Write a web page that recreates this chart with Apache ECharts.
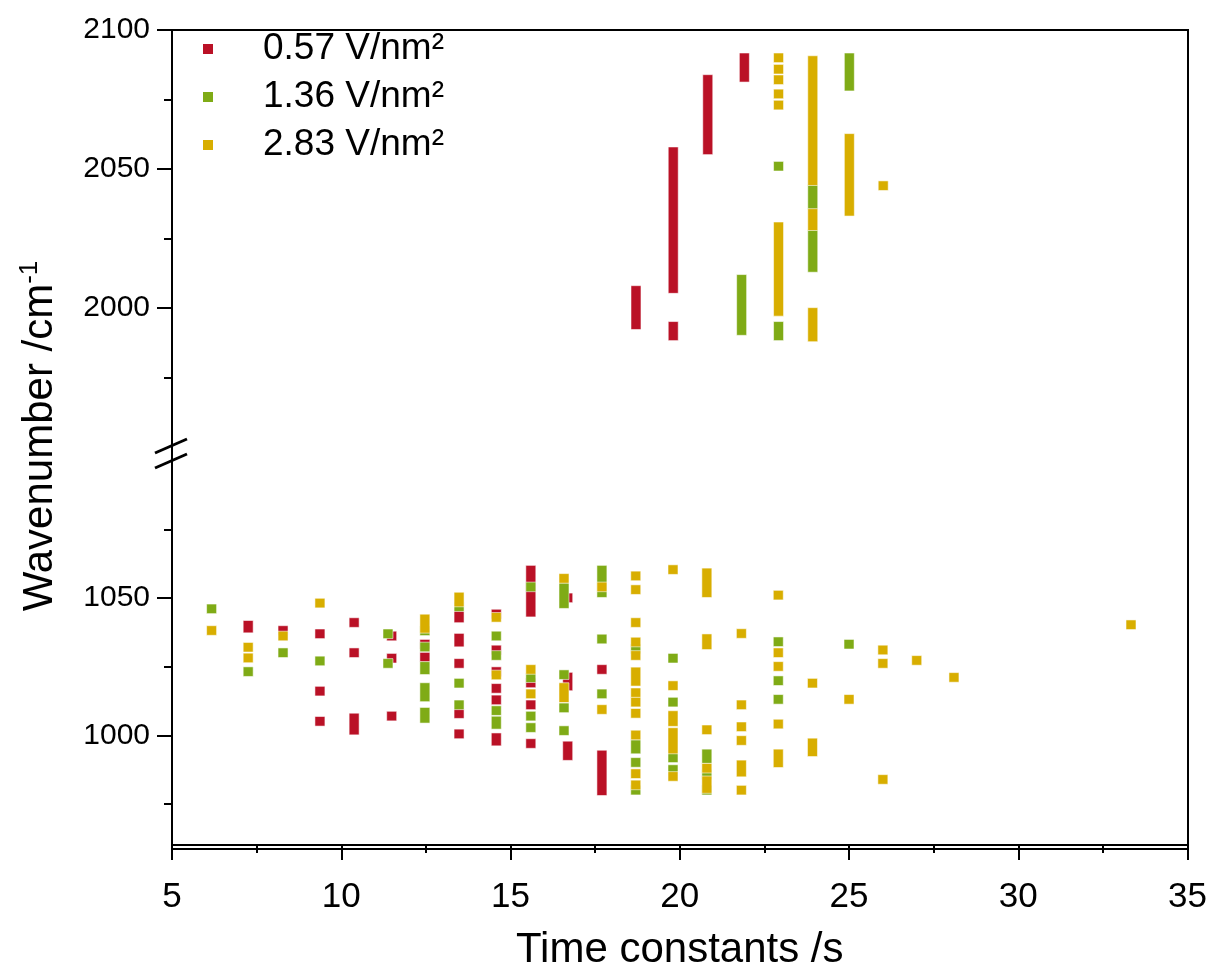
<!DOCTYPE html>
<html>
<head>
<meta charset="utf-8">
<script src="https://cdn.jsdelivr.net/npm/echarts@6/dist/echarts.min.js"></script>
<style>
  html, body { margin: 0; padding: 0; background: #fff; }
  #chart { width: 1210px; height: 972px; }
</style>
</head>
<body>
<div id="chart"></div>
<script>
// series names (legend)
const seriesNames = ["0.57 V/nm²", "1.36 V/nm²", "2.83 V/nm²"];
const seriesColors = ["#BA1126", "#7FAB16", "#D8AE00"];

// [time constant /s, wavenumber] or [time, wavenumber low, wavenumber high] for stacked runs
const redData = [
  [18.7, 1994, 2006.3], [19.8, 2007, 2056.2], [19.8, 1990, 1993.4],
  [20.82, 2056.9, 2082.2], [21.9, 2083, 2090],
  [7.25, 1039.1, 1040.1], [8.28, 1038.2],
  [9.37, 1037], [9.37, 1016.1], [9.37, 1005.1],
  [10.38, 1041.1], [10.38, 1030.1], [10.38, 1001.9, 1006.3],
  [11.49, 1036.2], [11.49, 1028.1], [11.49, 1007],
  [12.47, 1033.2], [12.47, 1028.5],
  [13.48, 1042.8, 1043.6], [13.48, 1034, 1035.4], [13.48, 1026.2], [13.48, 1007.9], [13.48, 1000.5],
  [14.58, 1044.2], [14.58, 1031.1], [14.58, 1023.2], [14.58, 1017.1], [14.58, 1012.9], [14.58, 997.9, 999.1],
  [15.6, 1044.9, 1060.2], [15.6, 1019.1], [15.6, 1011.1], [15.6, 997],
  [16.69, 1050.1], [16.69, 1018, 1021.2], [16.69, 992.6, 996.1],
  [17.7, 1024], [17.7, 979.8, 992.8]
];

const greenData = [
  [21.82, 1991.9, 2010.3], [22.91, 2051], [22.91, 1990, 1993.4],
  [23.92, 2037.2, 2042.6], [23.92, 2014.6, 2026.4], [25.0, 2079.8, 2090],
  [6.17, 1046.1], [7.25, 1023.2], [8.28, 1030.1], [9.37, 1027.1],
  [11.38, 1037], [11.38, 1026.2],
  [12.47, 1038.1], [12.47, 1032.2], [12.47, 1023.9, 1025.1], [12.47, 1014, 1017.4], [12.47, 1006.2, 1008.4],
  [13.48, 1046.9], [13.48, 1019], [13.48, 1011.1],
  [14.58, 1036.2], [14.58, 1029.1], [14.58, 1009], [14.58, 1004, 1005.2],
  [15.6, 1054.1], [15.6, 1021], [15.6, 1007], [15.6, 1002.8],
  [16.58, 1048, 1053.8], [16.58, 1022.1], [16.58, 1010], [16.58, 1001.7],
  [17.7, 1052, 1060.2], [17.7, 1035.1], [17.7, 1015.1],
  [18.7, 1031.5], [18.7, 995, 996.6], [18.7, 990.1], [18.7, 980],
  [19.8, 1028.1], [19.8, 1012.1], [19.8, 991.8], [19.8, 987.5],
  [20.8, 991.5, 993.2], [20.8, 985.7], [20.8, 980],
  [22.91, 1034.1], [22.91, 1019.9], [22.91, 1013.1],
  [25.0, 1033.2]
];

const yellowData = [
  [22.91, 2090], [22.91, 2085.9], [22.91, 2082.1], [22.91, 2077], [22.91, 2073],
  [22.91, 1998.8, 2029.2],
  [23.92, 2045.8, 2089], [23.92, 2029.6, 2034], [23.92, 1989.6, 1998.4],
  [25.0, 2034.8, 2061], [26.0, 2044],
  [6.17, 1038.2], [7.25, 1032.1], [7.25, 1028.2], [8.28, 1036.2], [9.37, 1048.2],
  [12.47, 1039, 1042.4], [13.48, 1048.6, 1050.4],
  [14.58, 1043], [14.58, 1022],
  [15.6, 1024], [15.6, 1015.1],
  [16.58, 1057.2], [16.58, 1013.7, 1017.4],
  [17.7, 1054.1], [17.7, 1009.4],
  [18.7, 1058.1], [18.7, 1053.1], [18.7, 1041.1], [18.7, 1034], [18.7, 1029.1],
  [18.7, 1019.7, 1023.1], [18.7, 1015.5], [18.7, 1012.1], [18.7, 1008], [18.7, 1000.1],
  [18.7, 986], [18.7, 981.9],
  [19.8, 1060.4], [19.8, 1018.1], [19.8, 1005, 1007.2], [19.8, 995, 1001], [19.8, 985],
  [20.8, 1052, 1059.2], [20.8, 1033, 1035.2], [20.8, 1002], [20.8, 988], [20.8, 980.6, 983.4],
  [21.82, 1037.1], [21.82, 1011.1], [21.82, 1003.1], [21.82, 998.1], [21.82, 986.6, 989.2], [21.82, 980],
  [22.91, 1051.1], [22.91, 1030.1], [22.91, 1025.1], [22.91, 1004.1], [22.91, 990, 993.2],
  [23.92, 1019], [23.92, 994, 997.2],
  [25.0, 1013.1], [26.0, 1031.1], [26.0, 1026.2], [26.0, 983.9],
  [27.0, 1027.3], [28.1, 1021.1], [33.33, 1040.3]
];

// axis ticks
const xTicks = { min: 5, max: 35, interval: 5 };
const upperMajor = [2000, 2050, 2100];
const upperMinor = [1975, 2025, 2075];
const lowerMajor = [1000, 1050];
const lowerMinor = [975, 1025, 1075];

const FONT = "'Liberation Sans', Arial, sans-serif";
const allData = [redData, greenData, yellowData];

// normalize to [t, lo, hi]
function toRange(d) {
  return [d[0], d[1], d.length > 2 ? d[2] : d[1]];
}

function renderSquares(params, api) {
  const t = api.value(0);
  const top = api.coord([t, api.value(2)]);
  const bot = api.coord([t, api.value(1)]);
  return {
    type: "rect",
    shape: { x: top[0] - 5, y: top[1] - 4.8, width: 10, height: bot[1] - top[1] + 9.6 },
    style: { fill: api.visual("color"), stroke: "rgba(255,255,255,0.55)", lineWidth: 1 }
  };
}

const series = [];
allData.forEach((arr, i) => {
  const rows = arr.map(toRange);
  const upper = rows.filter(r => r[1] > 1500);
  const lower = rows.filter(r => r[1] <= 1500);
  [[upper, 0], [lower, 1]].forEach(([data, g]) => {
    series.push({
      name: seriesNames[i],
      type: "custom",
      xAxisIndex: g,
      yAxisIndex: g * 2,
      renderItem: renderSquares,
      itemStyle: { color: seriesColors[i] },
      encode: { x: 0, y: [1, 2] },
      data: data
    });
  });
});

const axisLineStyle = { color: "#000", width: 2 };
const plainLabel = v => String(v);

const chart = echarts.init(document.getElementById("chart"));
chart.setOption({
  animation: false,
  backgroundColor: "#fff",
  textStyle: { fontFamily: FONT },
  grid: [
    { left: 172, top: 30, width: 1016, height: 417 },
    { left: 172, top: 461, width: 1016, height: 388 }
  ],
  legend: {
    data: seriesNames,
    orient: "vertical",
    left: 203,
    top: 29,
    padding: 0,
    itemGap: 8,
    itemWidth: 10,
    itemHeight: 10,
    icon: "rect",
    selectedMode: false,
    itemStyle: { borderWidth: 0 },
    textStyle: { fontSize: 37, color: "#000", fontFamily: FONT, lineHeight: 40, padding: [0, 0, 0, 45] }
  },
  xAxis: [
    { gridIndex: 0, type: "value", min: xTicks.min, max: xTicks.max, interval: xTicks.interval, show: false },
    {
      gridIndex: 1, type: "value", min: xTicks.min, max: xTicks.max, interval: xTicks.interval,
      axisLine: { lineStyle: axisLineStyle },
      axisTick: { length: 15, lineStyle: axisLineStyle },
      minorTick: { show: true, splitNumber: 2, length: 8, lineStyle: axisLineStyle },
      splitLine: { show: false },
      axisLabel: { fontSize: 35, color: "#000", margin: 35, fontFamily: FONT, formatter: plainLabel },
      name: "Time constants /s",
      nameLocation: "middle",
      nameGap: 84,
      nameTextStyle: { fontSize: 42, color: "#000", fontFamily: FONT }
    }
  ],
  yAxis: [
    {
      gridIndex: 0, type: "value", min: 1950, max: 2100, interval: 50,
      axisLine: { lineStyle: axisLineStyle },
      axisTick: { length: 15, lineStyle: axisLineStyle, customValues: upperMajor },
      splitLine: { show: false },
      axisLabel: { fontSize: 30, color: "#000", margin: 22, fontFamily: FONT, customValues: upperMajor, formatter: plainLabel }
    },
    {
      gridIndex: 0, type: "value", min: 1950, max: 2100, position: "left",
      axisLine: { show: false },
      axisTick: { length: 8, lineStyle: axisLineStyle, customValues: upperMinor },
      splitLine: { show: false },
      axisLabel: { show: false }
    },
    {
      gridIndex: 1, type: "value", min: 960, max: 1100,
      axisLine: { lineStyle: axisLineStyle },
      axisTick: { length: 15, lineStyle: axisLineStyle, customValues: lowerMajor },
      splitLine: { show: false },
      axisLabel: { fontSize: 30, color: "#000", margin: 22, fontFamily: FONT, customValues: lowerMajor, formatter: plainLabel }
    },
    {
      gridIndex: 1, type: "value", min: 960, max: 1100, position: "left",
      axisLine: { show: false },
      axisTick: { length: 8, lineStyle: axisLineStyle, customValues: lowerMinor },
      splitLine: { show: false },
      axisLabel: { show: false }
    }
  ],
  graphic: [
    // plot frame
    {
      type: "rect", z: 100, silent: true,
      shape: { x: 172, y: 30, width: 1016, height: 819 },
      style: { fill: "none", stroke: "#000", lineWidth: 2 }
    },
    // axis break marks
    {
      type: "line", z: 101, silent: true,
      shape: { x1: 155, y1: 453, x2: 187, y2: 439 },
      style: { stroke: "#000", lineWidth: 3 }
    },
    {
      type: "line", z: 101, silent: true,
      shape: { x1: 155, y1: 468, x2: 187, y2: 454 },
      style: { stroke: "#000", lineWidth: 3 }
    },
    // y axis title
    {
      type: "text", x: 40, y: 436, rotation: Math.PI / 2, silent: true,
      style: {
        text: "{a|Wavenumber /cm}{b|-1}",
        align: "center",
        verticalAlign: "middle",
        fill: "#000",
        rich: {
          a: { fontSize: 42, fontFamily: FONT, fill: "#000", lineHeight: 46 },
          b: { fontSize: 26, fontFamily: FONT, fill: "#000", verticalAlign: "top", lineHeight: 46 }
        }
      }
    }
  ],
  series: series
});
</script>
</body>
</html>
